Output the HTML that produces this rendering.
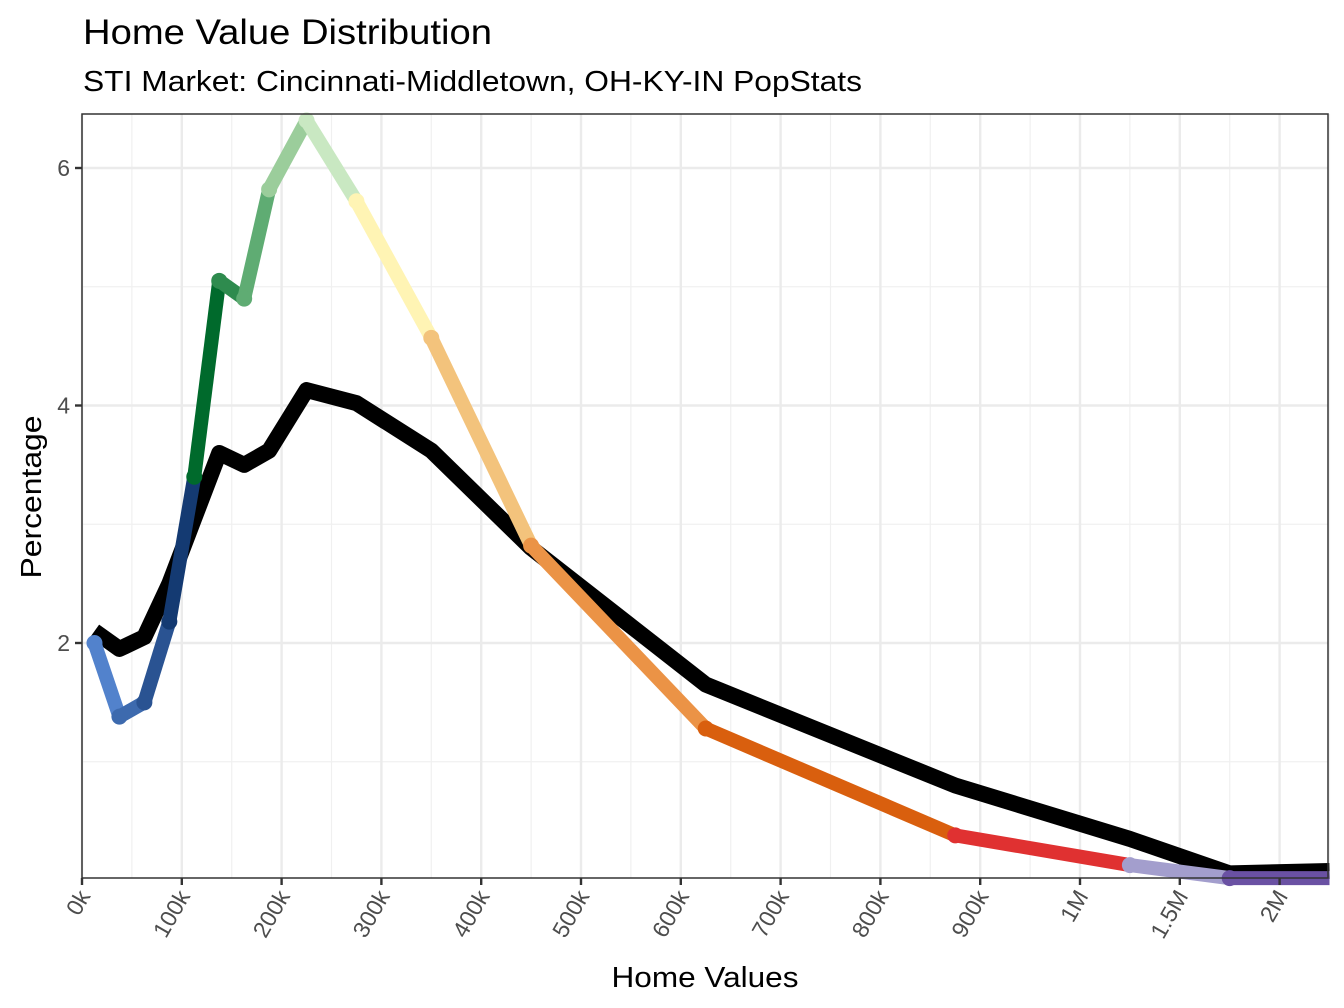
<!DOCTYPE html>
<html><head><meta charset="utf-8"><style>
body{margin:0;background:#fff;}
svg{display:block;font-family:"Liberation Sans",sans-serif;}
</style></head><body>
<svg id="chart" width="1344" height="1008" viewBox="0 0 1344 1008">
<text x="83" y="44" font-size="35" textLength="409" lengthAdjust="spacingAndGlyphs" fill="#000">Home Value Distribution</text>
<text x="83" y="91" font-size="29" textLength="779" lengthAdjust="spacingAndGlyphs" fill="#000">STI Market: Cincinnati-Middletown, OH-KY-IN PopStats</text>
<g id="grid"></g>
<g id="series"></g>
<g id="axes"></g>
<text transform="translate(41,497) rotate(-90)" text-anchor="middle" font-size="29" textLength="163" lengthAdjust="spacingAndGlyphs">Percentage</text>
<text x="705" y="987" text-anchor="middle" font-size="29" textLength="187" lengthAdjust="spacingAndGlyphs">Home Values</text>
</svg>
<script>
const xValues=[12.5,37.5,62.5,87.5,112.5,137.5,162.5,187.5,225,275,350,450,625,875,1250,1750,2250];
const stiValues=[2.0,1.38,1.5,2.18,3.4,5.05,4.9,5.82,6.4,5.72,4.57,2.82,1.28,0.38,0.13,0.02,0.02];
const marketValues=[2.1,1.95,2.05,2.5,3.05,3.6,3.5,3.62,4.13,4.02,3.62,2.8,1.65,0.8,0.35,0.06,0.08];
const segColors=["#5282cc","#3d6aae","#2a5392","#143a72","#006a2c","#2e8b4e","#5fac73","#9bcd9b","#c9e8c2","#fff4b4","#f3c37c","#eb9346","#d95f0e","#e03131","#a39ecd","#6a51a3"];
const xTickVals=[0,100,200,300,400,500,600,700,800,900,1000,1500,2000];
const xTickLabels=["0k","100k","200k","300k","400k","500k","600k","700k","800k","900k","1M","1.5M","2M"];
const yTickVals=[2,4,6];
const L=82,R=1328,T=114,B=878;
const NS="http://www.w3.org/2000/svg";
function xs(v){const p=v<=1000?v/100:10+(v-1000)/500;return L+p*99.8;}
function ys(v){return 880.5-v*118.75;}
function mk(tag,attrs,parent){const e=document.createElementNS(NS,tag);for(const k in attrs)e.setAttribute(k,attrs[k]);parent.appendChild(e);return e;}
const grid=document.getElementById('grid'),ser=document.getElementById('series'),ax=document.getElementById('axes');
for(let i=0;i<xTickVals.length-1;i++){const m=(xs(xTickVals[i])+xs(xTickVals[i+1]))/2;
 const g=mk('line',{x1:m,x2:m,y1:T,y2:B,stroke:'#f0f0f0','stroke-width':1.2},grid);
 }
{const m=xs(2000)+49.9;const g=mk('line',{x1:m,x2:m,y1:T,y2:B,stroke:'#f0f0f0','stroke-width':1.2},grid);
 }
[1,3,5].forEach(v=>{const g=mk('line',{x1:L,x2:R,y1:ys(v),y2:ys(v),stroke:'#f0f0f0','stroke-width':1.2},grid);
 });
xTickVals.forEach(v=>{const g=mk('line',{x1:xs(v),x2:xs(v),y1:T,y2:B,stroke:'#ebebeb','stroke-width':2.4},grid);
 });
yTickVals.forEach(v=>{const g=mk('line',{x1:L,x2:R,y1:ys(v),y2:ys(v),stroke:'#ebebeb','stroke-width':2.4},grid);
 });
const pts=xValues.map((x,i)=>xs(x)+','+ys(marketValues[i])).join(' ');
const ml=mk('polyline',{points:pts,fill:'none',stroke:'#000','stroke-width':16,'stroke-linejoin':'round'},ser);

for(let i=0;i<xValues.length-1;i++){
 const s=mk('line',{x1:xs(xValues[i]),y1:ys(stiValues[i]),x2:xs(xValues[i+1]),y2:ys(stiValues[i+1]),stroke:segColors[i],'stroke-width':14,'stroke-linecap':'butt'},ser);
 
 const c=mk('circle',{cx:xs(xValues[i]),cy:ys(stiValues[i]),r:8,fill:segColors[i]},ser);
 
}
const pb=mk('rect',{x:L,y:T,width:R-L,height:B-T,fill:'none',stroke:'#333','stroke-width':1.5},ax);

xTickVals.forEach((v,i)=>{const x=xs(v);
 const t=mk('line',{x1:x,x2:x,y1:B,y2:B+7,stroke:'#333','stroke-width':2.4},ax);
 
 const tx=mk('text',{transform:`translate(${x+9},${B+18}) rotate(-60)`,'text-anchor':'end','font-size':23,fill:'#4d4d4d'},ax);
 tx.textContent=xTickLabels[i];
 });
yTickVals.forEach(v=>{const y=ys(v);
 const t=mk('line',{x1:L-7,x2:L,y1:y,y2:y,stroke:'#333','stroke-width':2.4},ax);
 
 const tx=mk('text',{x:L-12,y:y+8,'text-anchor':'end','font-size':23,fill:'#4d4d4d'},ax);
 tx.textContent=String(v);
 });
</script>
</body></html>
